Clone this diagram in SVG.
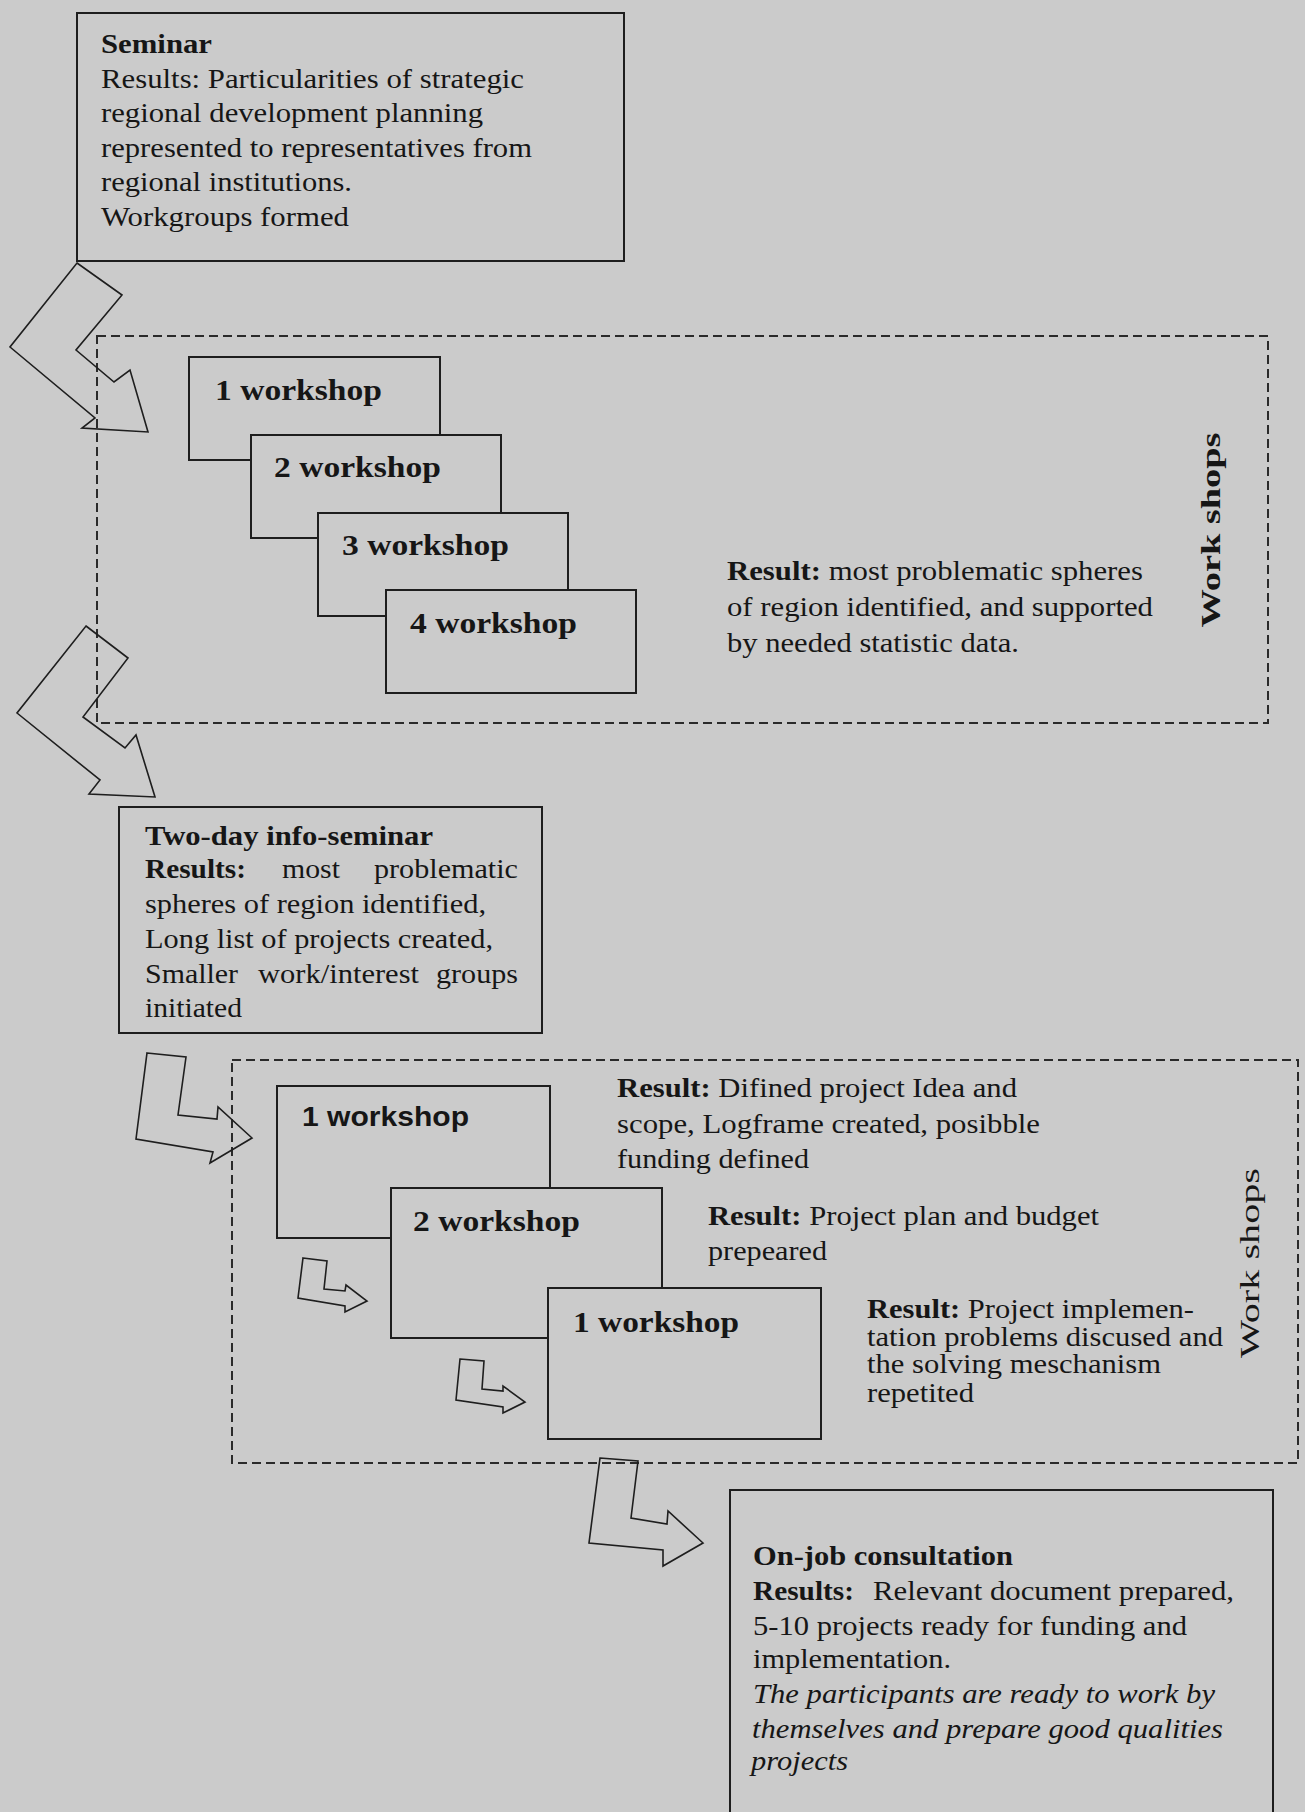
<svg xmlns="http://www.w3.org/2000/svg" width="1305" height="1812" viewBox="0 0 1305 1812">
<style>
.bg{fill:#cbcbcb}
.box{fill:#cbcbcb;stroke:#1e1e1e;stroke-width:2}
.dash{fill:none;stroke:#2a2a2a;stroke-width:2;stroke-dasharray:9 5}
.arr{fill:none;stroke:#1e1e1e;stroke-width:1.6;stroke-linejoin:miter}
text{font-family:"Liberation Serif","Times New Roman",serif;font-size:27px;fill:#161616}
.b{font-weight:bold}
.i{font-style:italic}
.ws{font-size:29px;font-weight:bold}
.sans{font-family:"Liberation Sans",Arial,sans-serif;font-size:28px;font-weight:bold}
</style>
<rect class="bg" x="0" y="0" width="1305" height="1812"/>

<g id="region1">
<rect class="dash" x="97" y="336" width="1171" height="387"/>
<text class="b" transform="translate(1220,530) rotate(-90)" x="0" y="0" text-anchor="middle" font-size="28" textLength="195" lengthAdjust="spacingAndGlyphs">Work shops</text>
</g>
<g id="region2">
<rect class="dash" x="232" y="1060" width="1066" height="403"/>
<text transform="translate(1259,1263) rotate(-90)" x="0" y="0" text-anchor="middle" textLength="190" lengthAdjust="spacingAndGlyphs">Work shops</text>
</g>

<g id="connectors">
<polygon class="arr" points="77,263 122,295 76,350 114,382 130,370 148,432 82,428 95,418 10,347"/>
<polygon class="arr" points="86,626 128,658 83,717 125,748 136,735 155,797 89,794 100,780 17,713"/>
<polygon class="arr" points="147,1053 186,1057 178,1115 217,1119 218,1107 252,1138 210,1163 213,1152 136,1139"/>
<polygon class="arr" points="303,1258 327,1261 324,1289 345,1291 346,1285 367,1301 345,1312 345,1306 298,1298"/>
<polygon class="arr" points="460,1359 484,1361 482,1389 503,1391 503,1386 525,1402 503,1413 503,1407 456,1400"/>
<polygon class="arr" points="600,1458 638,1461 631,1518 667,1524 668,1511 703,1543 663,1566 663,1550 589,1543"/>
</g>

<g id="seminar">
<rect class="box" x="77" y="13" width="547" height="248"/>
<text class="b" x="101" y="53" textLength="111" lengthAdjust="spacingAndGlyphs">Seminar</text>
<text x="101" y="88" textLength="423" lengthAdjust="spacingAndGlyphs">Results: Particularities of strategic</text>
<text x="101" y="122" textLength="382" lengthAdjust="spacingAndGlyphs">regional development planning</text>
<text x="101" y="157" textLength="431" lengthAdjust="spacingAndGlyphs">represented to representatives from</text>
<text x="101" y="191" textLength="251" lengthAdjust="spacingAndGlyphs">regional institutions.</text>
<text x="101" y="226" textLength="248" lengthAdjust="spacingAndGlyphs">Workgroups formed</text>
</g>

<g id="ws1-1">
<rect class="box" x="189" y="357" width="251" height="103"/>
<text class="ws" x="215" y="400" textLength="167" lengthAdjust="spacingAndGlyphs">1 workshop</text>
</g>
<g id="ws1-2">
<rect class="box" x="251" y="435" width="250" height="103"/>
<text class="ws" x="274" y="477" textLength="167" lengthAdjust="spacingAndGlyphs">2 workshop</text>
</g>
<g id="ws1-3">
<rect class="box" x="318" y="513" width="250" height="103"/>
<text class="ws" x="342" y="555" textLength="167" lengthAdjust="spacingAndGlyphs">3 workshop</text>
</g>
<g id="ws1-4">
<rect class="box" x="386" y="590" width="250" height="103"/>
<text class="ws" x="410" y="633" textLength="167" lengthAdjust="spacingAndGlyphs">4 workshop</text>
</g>

<g id="result1">
<text x="727" y="580" textLength="416" lengthAdjust="spacingAndGlyphs"><tspan class="b">Result:</tspan> most problematic spheres</text>
<text x="727" y="616" textLength="426" lengthAdjust="spacingAndGlyphs">of region identified, and supported</text>
<text x="727" y="652" textLength="292" lengthAdjust="spacingAndGlyphs">by needed statistic data.</text>
</g>

<g id="info-seminar">
<rect class="box" x="119" y="807" width="423" height="226"/>
<text class="b" x="145" y="845" textLength="288" lengthAdjust="spacingAndGlyphs">Two-day info-seminar</text>
<text class="b" x="145" y="878" textLength="101" lengthAdjust="spacingAndGlyphs">Results:</text>
<text x="282" y="878" textLength="58" lengthAdjust="spacingAndGlyphs">most</text>
<text x="374" y="878" textLength="144" lengthAdjust="spacingAndGlyphs">problematic</text>
<text x="145" y="913" textLength="341" lengthAdjust="spacingAndGlyphs">spheres of region identified,</text>
<text x="145" y="948" textLength="348" lengthAdjust="spacingAndGlyphs">Long list of projects created,</text>
<text x="145" y="983" textLength="93" lengthAdjust="spacingAndGlyphs">Smaller</text>
<text x="258" y="983" textLength="161" lengthAdjust="spacingAndGlyphs">work/interest</text>
<text x="436" y="983" textLength="82" lengthAdjust="spacingAndGlyphs">groups</text>
<text x="145" y="1017" textLength="97" lengthAdjust="spacingAndGlyphs">initiated</text>
</g>

<g id="ws2-1">
<rect class="box" x="277" y="1086" width="273" height="152"/>
<text class="sans" x="302" y="1126" textLength="167" lengthAdjust="spacingAndGlyphs">1 workshop</text>
</g>
<g id="ws2-2">
<rect class="box" x="391" y="1188" width="271" height="150"/>
<text class="ws" x="413" y="1231" textLength="167" lengthAdjust="spacingAndGlyphs">2 workshop</text>
</g>
<g id="ws2-3">
<rect class="box" x="548" y="1288" width="273" height="151"/>
<text class="ws" x="573" y="1332" textLength="166" lengthAdjust="spacingAndGlyphs">1 workshop</text>
</g>

<g id="result2-1">
<text x="617" y="1097" textLength="400" lengthAdjust="spacingAndGlyphs"><tspan class="b">Result:</tspan> Difined project Idea and</text>
<text x="617" y="1133" textLength="423" lengthAdjust="spacingAndGlyphs">scope, Logframe created, posibble</text>
<text x="617" y="1168" textLength="192" lengthAdjust="spacingAndGlyphs">funding defined</text>
</g>
<g id="result2-2">
<text x="708" y="1225" textLength="391" lengthAdjust="spacingAndGlyphs"><tspan class="b">Result:</tspan> Project plan and budget</text>
<text x="708" y="1260" textLength="119" lengthAdjust="spacingAndGlyphs">prepeared</text>
</g>
<g id="result2-3">
<text x="867" y="1318" textLength="327" lengthAdjust="spacingAndGlyphs"><tspan class="b">Result:</tspan> Project implemen-</text>
<text x="867" y="1346" textLength="356" lengthAdjust="spacingAndGlyphs">tation problems discused and</text>
<text x="867" y="1373" textLength="294" lengthAdjust="spacingAndGlyphs">the solving meschanism</text>
<text x="867" y="1402" textLength="107" lengthAdjust="spacingAndGlyphs">repetited</text>
</g>

<g id="on-job">
<rect class="box" x="730" y="1490" width="543" height="340"/>
<text class="b" x="753" y="1565" textLength="260" lengthAdjust="spacingAndGlyphs">On-job consultation</text>
<text class="b" x="753" y="1600" textLength="101" lengthAdjust="spacingAndGlyphs">Results:</text>
<text x="873" y="1600" textLength="361" lengthAdjust="spacingAndGlyphs">Relevant document prepared,</text>
<text x="753" y="1635" textLength="434" lengthAdjust="spacingAndGlyphs">5-10 projects ready for funding and</text>
<text x="753" y="1668" textLength="198" lengthAdjust="spacingAndGlyphs">implementation.</text>
<text class="i" x="753" y="1703" textLength="462" lengthAdjust="spacingAndGlyphs">The participants are ready to work by</text>
<text class="i" x="752" y="1738" textLength="471" lengthAdjust="spacingAndGlyphs">themselves and prepare good qualities</text>
<text class="i" x="751" y="1770" textLength="97" lengthAdjust="spacingAndGlyphs">projects</text>
</g>
</svg>
